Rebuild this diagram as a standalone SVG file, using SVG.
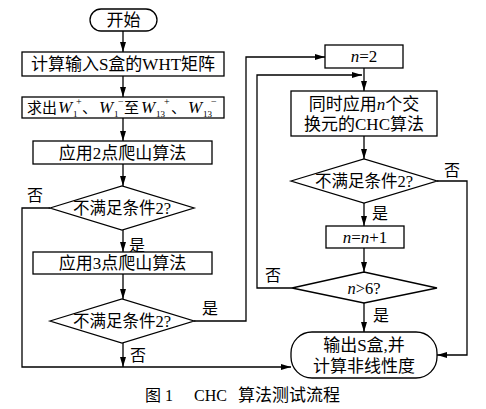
<svg xmlns="http://www.w3.org/2000/svg" width="486" height="409" viewBox="0 0 486 409">
<defs>
<style>
.s{fill:#fff;stroke:#000;stroke-width:1.3}
.c{fill:none;stroke:#000;stroke-width:1.3}
text{font-family:"Liberation Serif","Noto Sans CJK SC",serif;fill:#000}
.t{font-size:17px;text-anchor:middle}
.d{font-size:16.5px;text-anchor:middle}
.l{font-size:16px;text-anchor:middle}
.i{font-style:italic}
</style>
<marker id="ah" viewBox="0 0 10 6" refX="10" refY="3" markerWidth="10" markerHeight="6" markerUnits="userSpaceOnUse" orient="auto">
<path d="M0,0 L10,3 L0,6 z" fill="#000"/>
</marker>
</defs>
<rect width="486" height="409" fill="#fff"/>

<g id="connectors">
<path class="c" d="M123,31 V52" marker-end="url(#ah)"/>
<path class="c" d="M123,76 V97" marker-end="url(#ah)"/>
<path class="c" d="M123,118 V141" marker-end="url(#ah)"/>
<path class="c" d="M123,164 V186" marker-end="url(#ah)"/>
<path class="c" d="M123,230 V252" marker-end="url(#ah)"/>
<path class="c" d="M123,274 V299" marker-end="url(#ah)"/>
<path class="c" d="M123,343 V367" marker-end="url(#ah)"/>
<path class="c" d="M50,208 H22 V367 H291" marker-end="url(#ah)"/>
<path class="c" d="M194,321 H246 V57 H325" marker-end="url(#ah)"/>
<path class="c" d="M364,68 V91" marker-end="url(#ah)"/>
<path class="c" d="M292,288 H257 V75 H362" marker-end="url(#ah)"/>
<path class="c" d="M364,136 V159" marker-end="url(#ah)"/>
<path class="c" d="M364,203 V226" marker-end="url(#ah)"/>
<path class="c" d="M364,248 V272" marker-end="url(#ah)"/>
<path class="c" d="M364,303 V332" marker-end="url(#ah)"/>
<path class="c" d="M437,181 H467 V355 H437" marker-end="url(#ah)"/>
<text class="l" x="35" y="201">否</text>
<text class="l" x="137" y="251">是</text>
<text class="l" x="210" y="314">是</text>
<text class="l" x="138" y="361">否</text>
<text class="l" x="452" y="176">否</text>
<text class="l" x="380" y="219">是</text>
<text class="l" x="273" y="281">否</text>
<text class="l" x="381" y="321">是</text>
</g>

<g id="start">
<rect class="s" x="90" y="9" width="67" height="22" rx="11"/>
<text class="t" x="123.5" y="26">开始</text>
</g>

<g id="wht">
<rect class="s" x="22" y="52" width="202" height="24"/>
<text class="t" x="123" y="70">计算输入S盒的WHT矩阵</text>
</g>

<g id="w">
<rect class="s" x="22" y="97" width="202" height="21"/>
<text style="font-size:15px">
<tspan x="27" y="113">求出</tspan><tspan class="i" x="58" y="113" style="font-size:17px">W</tspan>
<tspan x="73" y="117" style="font-size:9px">1</tspan><tspan x="76" y="105" style="font-size:10px">+</tspan>
<tspan x="82" y="113">、</tspan><tspan class="i" x="99" y="113" style="font-size:17px">W</tspan>
<tspan x="114" y="117" style="font-size:9px">1</tspan><tspan x="118" y="105" style="font-size:10px">−</tspan>
<tspan x="124" y="113">至</tspan><tspan class="i" x="141" y="113" style="font-size:17px">W</tspan>
<tspan x="156" y="117" style="font-size:9px">13</tspan><tspan x="164" y="105" style="font-size:10px">+</tspan>
<tspan x="171" y="113">、</tspan><tspan class="i" x="188" y="113" style="font-size:17px">W</tspan>
<tspan x="203" y="117" style="font-size:9px">13</tspan><tspan x="211" y="105" style="font-size:10px">−</tspan>
</text>
</g>

<g id="hill2">
<rect class="s" x="33" y="141" width="179" height="23"/>
<text class="t" x="122.5" y="159">应用2点爬山算法</text>
</g>

<g id="cond1">
<polygon class="s" points="50,208 122,186 194,208 122,230"/>
<text class="d" x="122" y="214">不满足条件2?</text>
</g>

<g id="hill3">
<rect class="s" x="33" y="252" width="179" height="22"/>
<text class="t" x="122.5" y="269">应用3点爬山算法</text>
</g>

<g id="cond2">
<polygon class="s" points="50,321 122,299 194,321 122,343"/>
<text class="d" x="122" y="327">不满足条件2?</text>
</g>

<g id="n2">
<rect class="s" x="325" y="45" width="78" height="23"/>
<text class="t" x="364" y="62"><tspan class="i">n</tspan>=2</text>
</g>

<g id="chc">
<rect class="s" x="291" y="91" width="146" height="45"/>
<text class="t" x="364" y="110">同时应用<tspan class="i">n</tspan>个交</text>
<text class="t" x="364" y="130">换元的CHC算法</text>
</g>

<g id="cond3">
<polygon class="s" points="291,181 364,159 437,181 364,203"/>
<text class="d" x="364" y="187">不满足条件2?</text>
</g>

<g id="inc">
<rect class="s" x="326" y="226" width="78" height="22"/>
<text class="t" x="365" y="243"><tspan class="i">n</tspan>=<tspan class="i">n</tspan>+1</text>
</g>

<g id="cond4">
<polygon class="s" points="292,288 364,272 437,288 364,303"/>
<text class="d" x="364" y="294"><tspan class="i">n</tspan>&gt;6?</text>
</g>

<g id="end">
<rect class="s" x="291" y="332" width="146" height="46" rx="21"/>
<text class="t" x="364" y="351">输出S盒,并</text>
<text class="t" x="364" y="372">计算非线性度</text>
</g>

<text style="font-size:16px"><tspan x="145" y="401">图</tspan><tspan x="165" y="401">1</tspan><tspan x="194" y="401">CHC</tspan><tspan x="238" y="401" style="font-size:17px">算法测试流程</tspan></text>
</svg>
